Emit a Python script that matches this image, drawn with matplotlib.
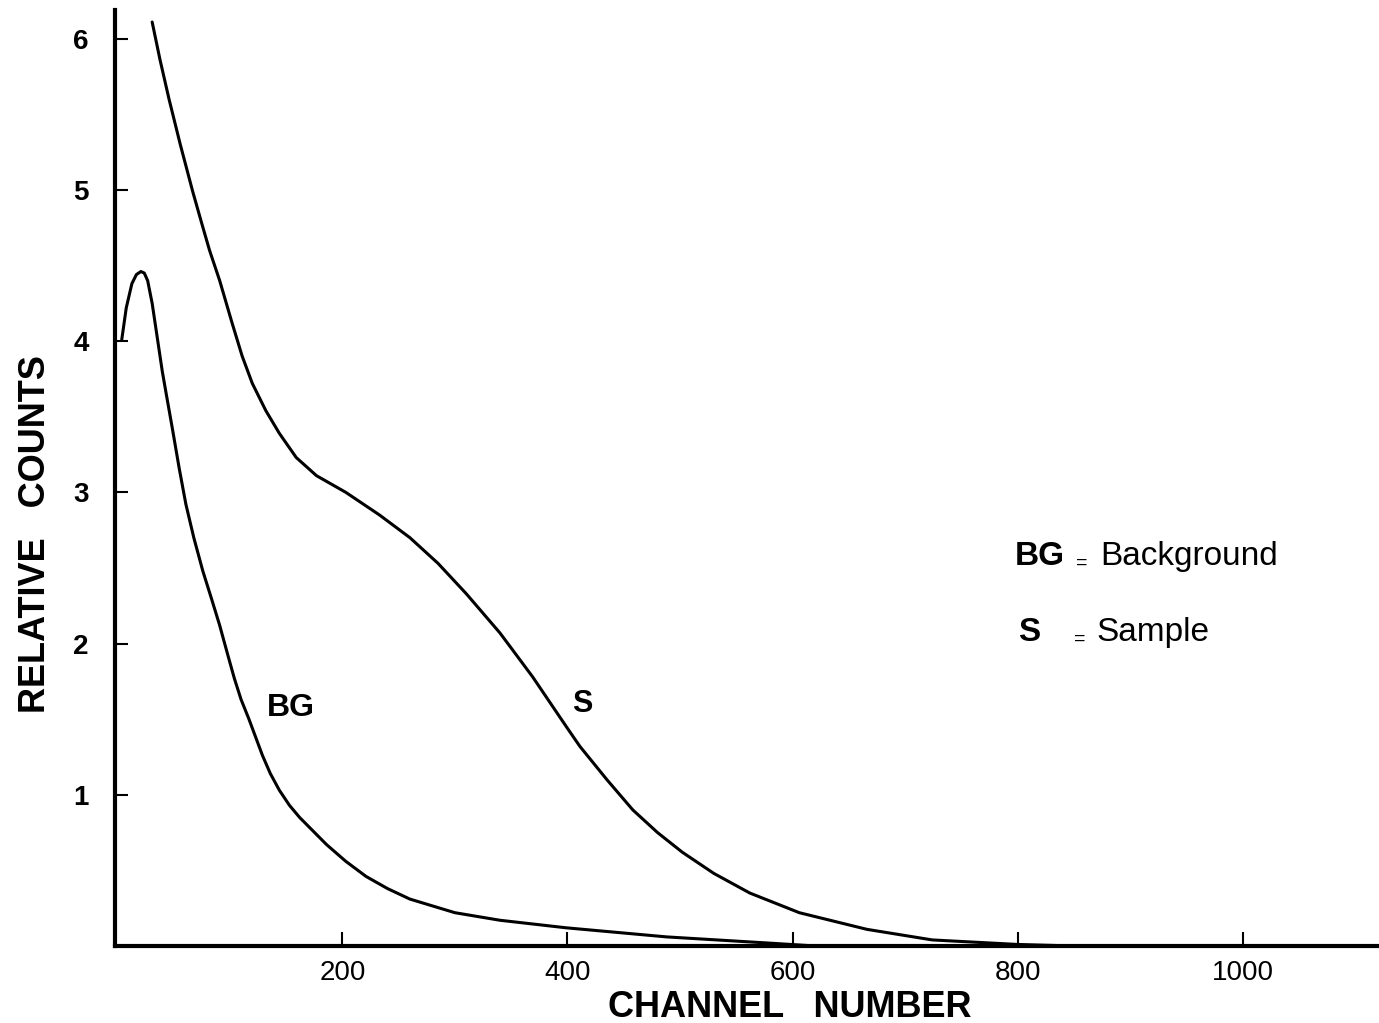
import matplotlib.pyplot as plt

# values
s_channel = [31, 38, 46, 56, 67, 75, 82, 91, 102, 111, 120, 132, 144, 159, 177,
             203, 233, 260, 285, 310, 340, 369, 399, 411, 435, 458, 480, 502,
             530, 562, 606, 666, 724, 800, 850]
s_counts = [6.11, 5.86, 5.60, 5.30, 4.99, 4.78, 4.60, 4.40, 4.12, 3.90, 3.72,
            3.54, 3.39, 3.23, 3.11, 3.00, 2.85, 2.70, 2.53, 2.33, 2.07, 1.78,
            1.45, 1.32, 1.10, 0.90, 0.75, 0.62, 0.48, 0.35, 0.22, 0.11, 0.04,
            0.01, 0.0]

bg_channel = [4, 8, 13, 17, 21, 24, 27, 31, 35, 40, 44, 49, 55, 61, 68, 76, 84,
              91, 98, 104, 110, 117, 123, 129, 136, 144, 153, 162, 174, 186,
              203, 221, 240, 260, 300, 340, 399, 488, 577, 620]
bg_counts = [4.01, 4.22, 4.38, 4.44, 4.46, 4.45, 4.40, 4.25, 4.05, 3.80, 3.63,
             3.42, 3.16, 2.92, 2.70, 2.48, 2.29, 2.12, 1.93, 1.77, 1.63, 1.50,
             1.38, 1.26, 1.14, 1.03, 0.93, 0.85, 0.76, 0.67, 0.56, 0.46, 0.38,
             0.31, 0.22, 0.17, 0.12, 0.06, 0.02, 0.0]

x_ticks = [200, 400, 600, 800, 1000]
y_ticks = [1, 2, 3, 4, 5, 6]

plt.rcParams['font.family'] = ['Liberation Sans', 'DejaVu Sans']

fig = plt.figure(figsize=(13.79, 10.23), dpi=100)
ax = fig.add_axes([0.0834, 0.0753, 0.9166, 0.915])

ax.plot(s_channel, s_counts, color='black', lw=2.2, solid_capstyle='round')
ax.plot(bg_channel, bg_counts, color='black', lw=2.2, solid_capstyle='round')

ax.set_xlim(-2, 1121)
ax.set_ylim(0, 6.19)

for side in ['top', 'right']:
    ax.spines[side].set_visible(False)
for side in ['left', 'bottom']:
    ax.spines[side].set_linewidth(3)

ax.set_xticks(x_ticks)
ax.set_yticks(y_ticks)
ax.set_xticklabels([str(v) for v in x_ticks], fontsize=20)
ax.set_yticklabels([str(v) for v in y_ticks], fontsize=20, fontweight='bold')
ax.tick_params(axis='x', direction='in', length=10, width=1.5, pad=10)
ax.tick_params(axis='y', direction='in', length=9, width=1.5, pad=19)

ax.set_xlabel('CHANNEL   NUMBER', fontsize=26, fontweight='bold', va='top')
ax.xaxis.set_label_coords(0.534, -0.047)
ax.set_ylabel('RELATIVE   COUNTS', fontsize=26, fontweight='bold', va='center')
ax.yaxis.set_label_coords(-0.063, 0.44)

# curve labels
ax.text(133, 1.52, 'BG', fontsize=23, fontweight='bold')
ax.text(404, 1.55, 'S', fontsize=22, fontweight='bold')

# key
ax.text(797, 2.52, 'BG', fontsize=24, fontweight='bold')
ax.text(852, 2.50, '=', fontsize=14)
ax.text(873, 2.52, 'Background', fontsize=24)
ax.text(800, 2.02, 'S', fontsize=24, fontweight='bold')
ax.text(850, 2.00, '=', fontsize=14)
ax.text(870, 2.02, 'Sample', fontsize=24)

fig.savefig('out.png', dpi=100)
